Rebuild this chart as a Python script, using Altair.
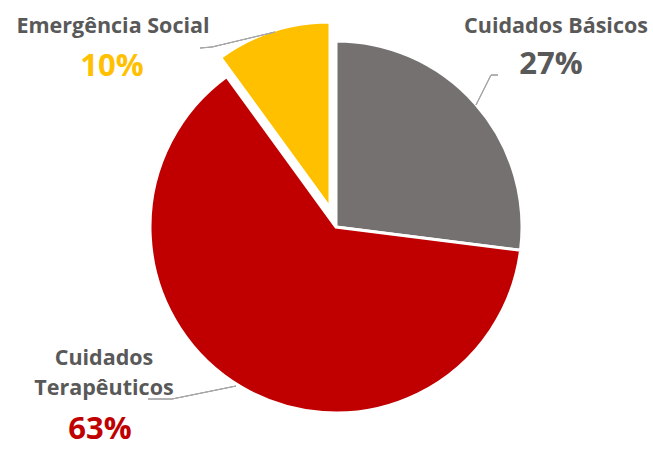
import altair as alt
import pandas as pd

categories = ["Cuidados Básicos", "Cuidados Terapêuticos", "Emergência Social"]
values = [27, 63, 10]
colors = ["#767171", "#C00000", "#FFC000"]
order_idx = [0, 1, 2]

df = pd.DataFrame({"cat": categories, "value": values, "ord": order_idx})

FONT = "Open Sans"
TXT = "#595959"
LINE = "#A6A6A6"
CX, CY, R = 336, 227, 186
EX, EY = 330, 208  # exploded centre for Emergência Social

base = alt.Chart(df)
theta = alt.Theta("value:Q", stack=True)
color = alt.Color("cat:N", scale=alt.Scale(domain=categories, range=colors), legend=None)
order = alt.Order("ord:Q")
is_em = alt.datum.cat == "Emergência Social"

main = base.mark_arc(outerRadius=R, stroke="white", strokeWidth=3).encode(
    theta=theta, color=color, order=order,
    opacity=alt.condition(is_em, alt.value(0), alt.value(1)),
    x=alt.value(CX), y=alt.value(CY),
)
expl = base.mark_arc(outerRadius=R, stroke="white", strokeWidth=3).encode(
    theta=theta, color=color, order=order,
    opacity=alt.condition(is_em, alt.value(1), alt.value(0)),
    x=alt.value(EX), y=alt.value(EY),
)

def name_label(cat, x, y, **kw):
    return base.transform_filter(alt.datum.cat == cat).mark_text(
        font=FONT, fontSize=21.5, fontWeight="bold", color=TXT, align="center",
        baseline="alphabetic", **kw
    ).encode(text="cat:N", x=alt.value(x), y=alt.value(y))

def pct_label(cat, x, y, col):
    return base.transform_filter(alt.datum.cat == cat).transform_calculate(
        pct="datum.value + '%'"
    ).mark_text(
        font=FONT, fontSize=31, fontWeight="bold", color=col, align="center",
        baseline="alphabetic"
    ).encode(text="pct:N", x=alt.value(x), y=alt.value(y))

labels = [
    name_label("Emergência Social", 113, 33),
    pct_label("Emergência Social", 112, 76, colors[2]),
    name_label("Cuidados Básicos", 556, 33),
    pct_label("Cuidados Básicos", 551, 74, TXT),
    name_label("Cuidados Terapêuticos", 104, 365, lineBreak=" ", lineHeight=30),
    pct_label("Cuidados Terapêuticos", 100, 439, colors[1]),
]

def seg(x1, y1, x2, y2):
    return alt.Chart(df).mark_rule(color=LINE, strokeWidth=1).encode(
        x=alt.value(x1), y=alt.value(y1), x2=alt.value(x2), y2=alt.value(y2)
    )

leaders = [
    seg(200, 48, 212, 47), seg(212, 47, 275, 32),
    seg(498, 75, 491, 75), seg(491, 75, 476, 105),
    seg(148, 399, 172, 399), seg(172, 399, 236, 386),
]

chart = alt.layer(main, expl, *leaders, *labels).properties(
    width=653, height=450, padding=0, autosize="none", background="white"
).configure_view(stroke=None)

chart.save("out.html", embed_options={"renderer": "svg", "actions": False})
